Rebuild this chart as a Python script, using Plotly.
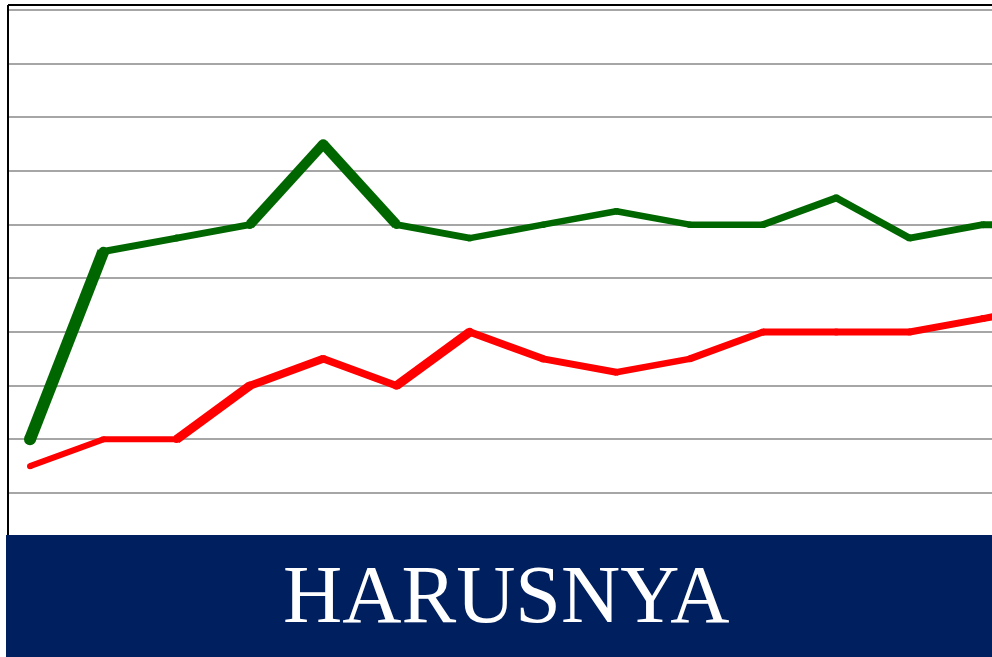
import plotly.graph_objects as go

# ---- data (grid units) ----
periods = list(range(15))
green_values = [1.0, 4.5, 4.75, 5.0, 6.5, 5.0, 4.75, 5.0, 5.25, 5.0, 5.0, 5.5, 4.75, 5.0, 5.0]
red_values = [0.5, 1.0, 1.0, 2.0, 2.5, 2.0, 3.0, 2.5, 2.25, 2.5, 3.0, 3.0, 3.0, 3.25, 3.5]
banner_text = "HARUSNYA"

# ---- styles ----
green_widths = [12, 7, 7, 10, 10, 7, 6.5, 6.5, 6.5, 6.5, 7, 7, 7, 7]
red_widths = [6, 6, 9, 8, 7.5, 9, 7.5, 7, 6.5, 7, 7, 7, 7, 7]
GREEN = "#006600"
RED = "#ff0000"
NAVY = "#001f5f"

fig = go.Figure()


def add_series(xs, ys, widths, color):
    for i in range(len(xs) - 1):
        fig.add_trace(go.Scatter(
            x=xs[i:i + 2], y=ys[i:i + 2], mode="lines",
            line=dict(color=color, width=widths[i]),
            hoverinfo="skip", showlegend=False, cliponaxis=True))
    sizes = []
    for i in range(len(xs)):
        adj = []
        if i > 0:
            adj.append(widths[i - 1])
        if i < len(widths):
            adj.append(widths[i])
        sizes.append(min(adj) + 0.5 * (max(adj) - min(adj)))
    fig.add_trace(go.Scatter(
        x=xs, y=ys, mode="markers",
        marker=dict(color=color, size=sizes, opacity=1, line=dict(width=0)),
        hoverinfo="skip", showlegend=False))


add_series(periods, green_values, green_widths, GREEN)
add_series(periods, red_values, red_widths, RED)

W, H = 992, 657
L, R, T, B = 8, 0, 5, 0
pw, ph = W - L - R, H - T - B
unit_x = 73.3
x0 = -(30 - L) / unit_x
x1 = x0 + pw / unit_x
unit_y = 53.67
y_top = 9 + (10 - T) / unit_y
y_bot = (493 - H) / unit_y

banner_top = 535
fig.add_shape(type="rect", xref="paper", yref="paper",
              x0=(6 - L) / pw, x1=1.0, y0=0, y1=(H - banner_top) / ph,
              fillcolor=NAVY, line=dict(width=0), layer="above")
# borders
fig.add_shape(type="line", xref="paper", yref="paper", x0=0, x1=1, y0=1, y1=1,
              line=dict(color="black", width=2), layer="above")
fig.add_shape(type="line", xref="paper", yref="paper", x0=0, x1=0, y0=(H - banner_top) / ph, y1=1,
              line=dict(color="black", width=2), layer="above")

fig.add_annotation(text=banner_text, xref="paper", yref="paper",
                   x=(506 - L) / pw, y=(H - 594) / ph, xanchor="center", yanchor="middle",
                   showarrow=False,
                   font=dict(family="Liberation Serif", size=82, color="white"))

fig.update_layout(
    width=W, height=H,
    margin=dict(l=L, r=R, t=T, b=B, pad=0),
    paper_bgcolor="white", plot_bgcolor="white",
    xaxis=dict(range=[x0, x1], showgrid=False, zeroline=False, showticklabels=False,
               showline=False, fixedrange=True),
    yaxis=dict(range=[y_bot, y_top], tick0=0, dtick=1, showgrid=True,
               gridcolor="#a6a6a6", gridwidth=1.5, zeroline=False,
               showticklabels=False, showline=False, fixedrange=True),
    showlegend=False,
)

fig.write_html("out.html", config={"displayModeBar": False})
